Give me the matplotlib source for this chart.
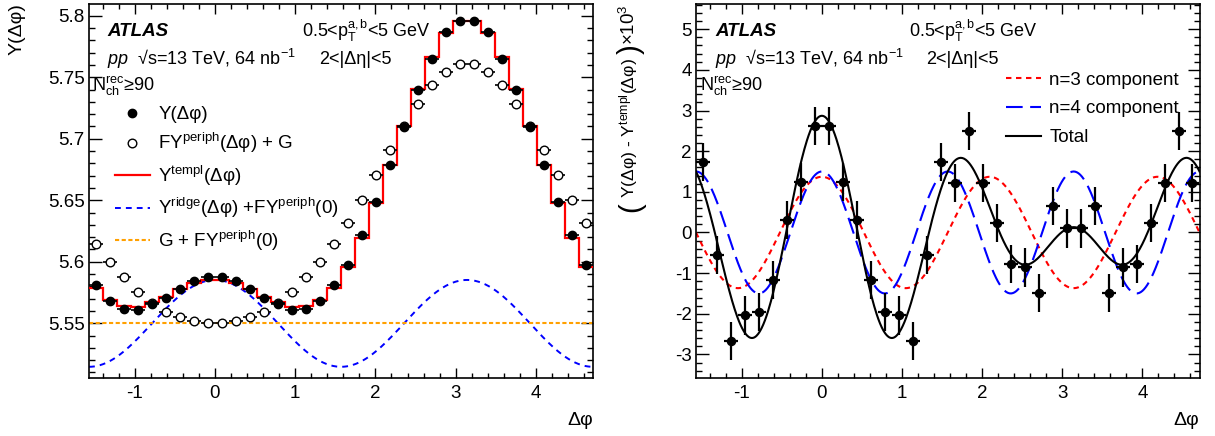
import numpy as np
import matplotlib
matplotlib.use('Agg')
import matplotlib.pyplot as plt
from matplotlib.ticker import MultipleLocator, FuncFormatter
from matplotlib.lines import Line2D

plt.rcParams['font.family'] = ['Liberation Sans', 'DejaVu Sans']
plt.rcParams['mathtext.fontset'] = 'custom'
plt.rcParams['mathtext.rm'] = 'Liberation Sans'
plt.rcParams['mathtext.it'] = 'Liberation Sans:italic'
plt.rcParams['mathtext.bf'] = 'Liberation Sans:bold'

# ---------------- data ----------------
dphi = [-1.484, -1.309, -1.134, -0.960, -0.785, -0.611, -0.436, -0.262, -0.087,
        0.087, 0.262, 0.436, 0.611, 0.785, 0.960, 1.134, 1.309, 1.484,
        1.658, 1.833, 2.007, 2.182, 2.356, 2.531, 2.705, 2.880, 3.054,
        3.229, 3.403, 3.578, 3.752, 3.927, 4.101, 4.276, 4.451, 4.625]
bin_halfwidth = 0.0873

y_data = [5.5807, 5.5682, 5.5614, 5.5609, 5.5655, 5.5704, 5.5780, 5.5840, 5.5880,
          5.5880, 5.5840, 5.5780, 5.5704, 5.5655, 5.5609, 5.5614, 5.5682, 5.5807,
          5.5973, 5.6220, 5.6489, 5.6786, 5.7098, 5.7397, 5.7647, 5.7864, 5.7960,
          5.7960, 5.7864, 5.7647, 5.7397, 5.7098, 5.6786, 5.6489, 5.6220, 5.5973]

fy_periph_g = [5.6144, 5.5998, 5.5873, 5.5753, 5.5663, 5.5595, 5.5547, 5.5519, 5.5503,
               5.5503, 5.5519, 5.5547, 5.5595, 5.5663, 5.5753, 5.5873, 5.5998, 5.6144,
               5.6315, 5.6503, 5.6701, 5.6905, 5.7103, 5.7283, 5.7435, 5.7546, 5.7606,
               5.7606, 5.7546, 5.7435, 5.7283, 5.7103, 5.6905, 5.6701, 5.6503, 5.6315]

y_templ = [5.5790, 5.5688, 5.5641, 5.5629, 5.5675, 5.5716, 5.5777, 5.5828, 5.5854,
           5.5854, 5.5828, 5.5777, 5.5716, 5.5675, 5.5629, 5.5641, 5.5688, 5.5790,
           5.5961, 5.6195, 5.6477, 5.6784, 5.7106, 5.7406, 5.7662, 5.7857, 5.7959,
           5.7959, 5.7857, 5.7662, 5.7406, 5.7106, 5.6784, 5.6477, 5.6195, 5.5961]

ridge_offset = 5.5499   # Y^ridge + FY^periph(0) baseline
ridge_amp = 0.0353      # cos(2 dphi) amplitude
g_level = 5.5500        # G + FY^periph(0)

residual = [1.73, -0.56, -2.67, -2.04, -1.96, -1.16, 0.31, 1.25, 2.62,
            2.62, 1.25, 0.31, -1.16, -1.96, -2.04, -2.67, -0.56, 1.73,
            1.22, 2.49, 1.22, 0.23, -0.78, -0.86, -1.49, 0.66, 0.10,
            0.10, 0.66, -1.49, -0.86, -0.78, 0.23, 1.22, 2.49, 1.22]
residual_err = [0.47] * 36

n3_amp = 1.37
n4_amp = 1.50

# ---------------- figure ----------------
W, H = 1215, 436
fig = plt.figure(figsize=(W / 100, H / 100), dpi=100)

def fx(px):
    return px / W

def fy(py):
    return 1 - py / H

axL = fig.add_axes([fx(89), fy(378), fx(504), 374 / H])
axR = fig.add_axes([fx(696), fy(378), fx(503.5), 374 / H])

x = np.asarray(dphi)
edges = np.append(x - bin_halfwidth, x[-1] + bin_halfwidth)
phi_fine = np.linspace(-np.pi / 2, 3 * np.pi / 2, 600)

# ---- left panel ----
axL.stairs(y_templ, edges, baseline=None, color='red', lw=1.6, zorder=3)
axL.plot(phi_fine, ridge_offset + ridge_amp * np.cos(2 * phi_fine), color='blue',
         lw=1.4, ls=(0, (3, 2.6)), zorder=2)
axL.axhline(g_level, color='#FFA000', lw=1.5, ls=(0, (2, 1.2)), zorder=2)
axL.errorbar(x, fy_periph_g, xerr=bin_halfwidth, fmt='o', mfc='white', mec='black',
             ecolor='black', ms=6.2, mew=1.0, elinewidth=1.2, capsize=0, zorder=4)
axL.errorbar(x, y_data, xerr=bin_halfwidth, fmt='o', color='black', ms=6.0,
             elinewidth=1.2, capsize=0, zorder=5)
axL.set_xlim(-np.pi / 2, 3 * np.pi / 2)
axL.set_ylim(5.5055, 5.8095)

# ---- right panel ----
axR.plot(phi_fine, n3_amp * np.cos(3 * phi_fine), color='red', lw=1.5,
         ls=(0, (2.6, 2.2)), zorder=2)
axR.plot(phi_fine, n4_amp * np.cos(4 * phi_fine), color='blue', lw=1.5,
         ls=(0, (8, 3.6)), zorder=2)
axR.plot(phi_fine, n3_amp * np.cos(3 * phi_fine) + n4_amp * np.cos(4 * phi_fine),
         color='black', lw=1.5, zorder=3)
axR.errorbar(x, residual, xerr=bin_halfwidth, yerr=residual_err, fmt='o', color='black',
             ms=5.8, elinewidth=1.6, capsize=0, zorder=4)
axR.set_xlim(-np.pi / 2, 3 * np.pi / 2)
axR.set_ylim(-3.58, 5.62)

def gfmt(v, pos):
    return '%g' % round(v, 4)

for ax, ymaj, ymin in ((axL, 0.05, 0.01), (axR, 1, 0.2)):
    ax.xaxis.set_major_locator(MultipleLocator(1))
    ax.xaxis.set_minor_locator(MultipleLocator(0.2))
    ax.yaxis.set_major_locator(MultipleLocator(ymaj))
    ax.yaxis.set_minor_locator(MultipleLocator(ymin))
    ax.yaxis.set_major_formatter(FuncFormatter(gfmt))
    ax.xaxis.set_major_formatter(FuncFormatter(gfmt))
    ax.tick_params(which='both', direction='in', top=True, right=True, width=1.0,
                   labelsize=13.5, color='black')
    ax.tick_params(axis='x', which='major', length=7.5, pad=5)
    ax.tick_params(axis='x', which='minor', length=3.8)
    ax.tick_params(axis='y', which='major', length=9, pad=3)
    ax.tick_params(axis='y', which='minor', length=4.5)
    for s in ax.spines.values():
        s.set_linewidth(1.2)
    ax.set_xlabel('Δφ', fontsize=14, loc='right', labelpad=7)

# ---- axis titles ----
fig.text(fx(17.5), fy(3), 'Y(Δφ)', rotation=90, ha='center', va='top', fontsize=14)
# right: ( Y(Δφ) - Y^templ(Δφ) ) x 10^3 with tall parentheses
fig.text(fx(629), fy(128), r'Y(Δφ) - Y$^{\mathrm{templ}}$(Δφ)', rotation=90,
         ha='center', va='center', fontsize=12.6)
fig.text(fx(631), fy(207), '(', rotation=90, ha='center', va='center', fontsize=21)
fig.text(fx(631), fy(49), ')', rotation=90, ha='center', va='center', fontsize=21)
fig.text(fx(629), fy(4), r'×10$^{3}$', rotation=90, ha='center', va='top', fontsize=13.5)

# ---- annotations ----
for x0, xs in ((107, 302), (715, 909)):
    fig.text(fx(x0), fy(31), 'ATLAS', fontweight='bold', style='italic',
             fontsize=13.5, va='center', ha='left')
    fig.text(fx(x0), fy(59), r'$pp$  √s=13 TeV, 64 nb$^{\mathrm{-1}}$',
             fontsize=13, va='center', ha='left')
    fig.text(fx(x0 - 15), fy(86), r'N$_{\mathrm{ch}}^{\mathrm{rec}}$≥90',
             fontsize=13, va='center', ha='left')
    fig.text(fx(xs), fy(31), r'0.5<p$_{\mathrm{T}}^{\mathrm{a,b}}$<5 GeV',
             fontsize=13, va='center', ha='left')
    fig.text(fx(xs + 17), fy(59), '2<|Δη|<5', fontsize=13, va='center', ha='left')

# ---- legends ----
hL = [Line2D([], [], marker='o', ls='none', color='black', ms=6.0),
      Line2D([], [], marker='o', ls='none', mfc='white', mec='black', ms=6.2, mew=1.0),
      Line2D([], [], color='red', lw=1.6),
      Line2D([], [], color='blue', lw=1.4, ls=(0, (3, 2.6))),
      Line2D([], [], color='#FFA000', lw=1.5, ls=(0, (2, 1.2)))]
lL = ['Y(Δφ)',
      r'FY$^{\mathrm{periph}}$(Δφ) + G',
      r'Y$^{\mathrm{templ}}$(Δφ)',
      r'Y$^{\mathrm{ridge}}$(Δφ) +FY$^{\mathrm{periph}}$(0)',
      r'G + FY$^{\mathrm{periph}}$(0)']
fig.legend(hL, lL, loc='upper left', bbox_to_anchor=(fx(115), fy(106)),
           frameon=False, fontsize=13.5, handlelength=1.85, handletextpad=0.45,
           labelspacing=0.44, borderpad=0, borderaxespad=0)

hR = [Line2D([], [], color='red', lw=1.5, ls=(0, (2.6, 2.2))),
      Line2D([], [], color='blue', lw=1.5, ls=(0, (8, 3.6))),
      Line2D([], [], color='black', lw=1.5)]
lR = ['n=3 component', 'n=4 component', 'Total']
fig.legend(hR, lR, loc='upper left', bbox_to_anchor=(fx(1006), fy(71.5)),
           frameon=False, fontsize=13.5, handlelength=1.85, handletextpad=0.45,
           labelspacing=0.62, borderpad=0, borderaxespad=0)

fig.savefig('out.png', dpi=100)
